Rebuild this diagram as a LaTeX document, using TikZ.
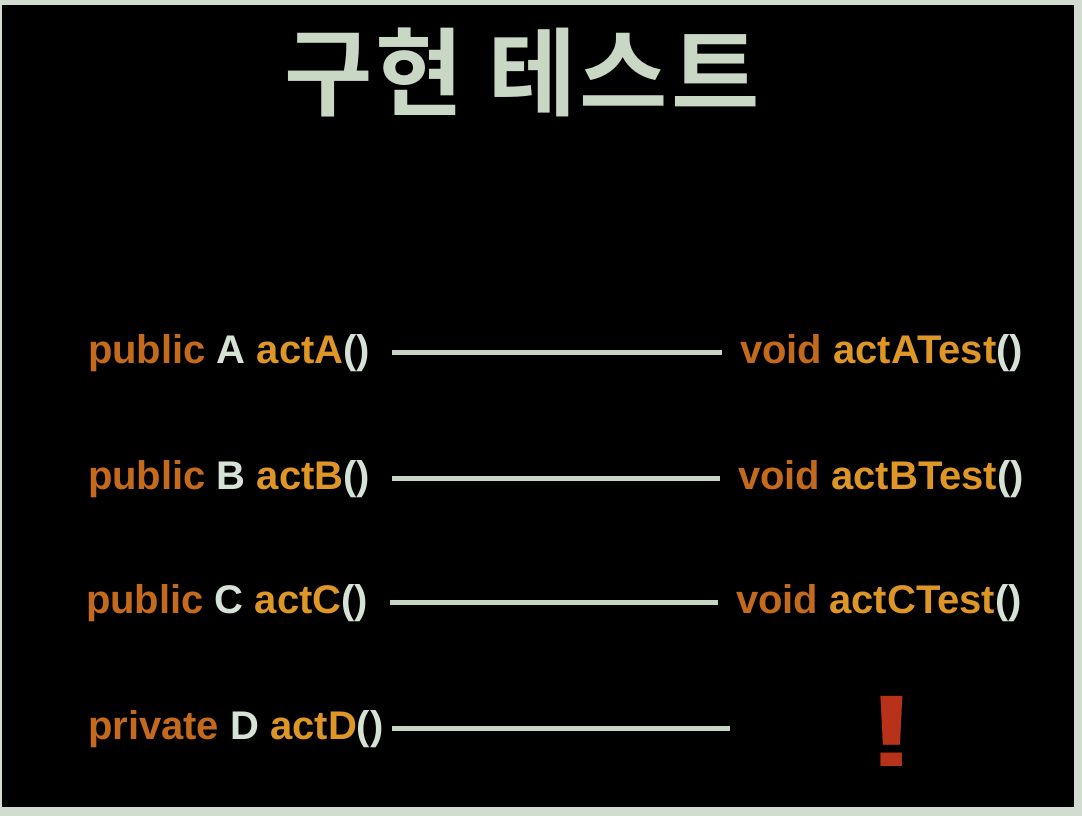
\documentclass[tikz,border=0pt]{standalone}
\usepackage{fontspec}
\usepackage{graphicx}
\setmainfont{Liberation Sans}
\newfontfamily\krfont{Noto Sans CJK KR}[BoldFont={* Bold},LetterSpace=3]
\definecolor{frame}{HTML}{D2DCD0}
\definecolor{titlecol}{HTML}{C9D7C5}
\definecolor{kwcol}{HTML}{C46A1C}
\definecolor{namecol}{HTML}{DE9626}
\definecolor{lightcol}{HTML}{D6E2D6}
\definecolor{linecol}{HTML}{C8D4C4}
\definecolor{bangcol}{HTML}{B8321A}
\newcommand{\kw}[1]{\textcolor{kwcol}{#1}}
\newcommand{\nm}[1]{\textcolor{namecol}{#1}}
\newcommand{\lt}[1]{\textcolor{lightcol}{#1}}
\begin{document}
\begin{tikzpicture}[x=1pt,y=-1pt,
  code/.style={inner sep=0pt,outer sep=0pt,font=\fontsize{40}{48}\selectfont\bfseries},
  conn/.style={draw=linecol,line width=4.5pt},
  titletext/.style={inner sep=0pt,text=titlecol,font=\krfont\fontsize{96}{110}\selectfont\bfseries}]
\useasboundingbox (0,0) rectangle (1082,816);
\fill[frame] (0,0) rectangle (1082,816);
\fill[black] (2,5) rectangle (1074,807);
\node[titletext,anchor=base] (title) at (522,108) {구현 테스트};
% left labels
\node[code,anchor=base west] (lA) at (88,363) {\kw{public} \lt{A} \nm{actA}\lt{()}};
\node[code,anchor=base west] (lB) at (88,489) {\kw{public} \lt{B} \nm{actB}\lt{()}};
\node[code,anchor=base west] (lC) at (86,613) {\kw{public} \lt{C} \nm{actC}\lt{()}};
\node[code,anchor=base west] (lD) at (88,739) {\kw{private} \lt{D} \nm{actD}\lt{()}};
% right labels
\node[code,anchor=base west] (rA) at (740,363) {\kw{void} \nm{actATest}\lt{()}};
\node[code,anchor=base west] (rB) at (738,489) {\kw{void} \nm{actBTest}\lt{()}};
\node[code,anchor=base west] (rC) at (736,613) {\kw{void} \nm{actCTest}\lt{()}};
\node[inner sep=0pt,anchor=base,text=bangcol,font=\fontsize{102}{110}\selectfont\bfseries] (bang) at (892,766) {\scalebox{1.5}[1]{!}};
\coordinate (endD) at (730,0);
% connectors
\draw[conn] ([xshift=22pt]lA.east) -- ([xshift=-18pt]lA.east -| rA.west);
\draw[conn] ([xshift=22pt]lB.east) -- ([xshift=-18pt]lB.east -| rB.west);
\draw[conn] ([xshift=22pt]lC.east) -- ([xshift=-18pt]lC.east -| rC.west);
\draw[conn] ([xshift=8pt]lD.east) -- (lD.east -| endD);
\end{tikzpicture}
\end{document}
